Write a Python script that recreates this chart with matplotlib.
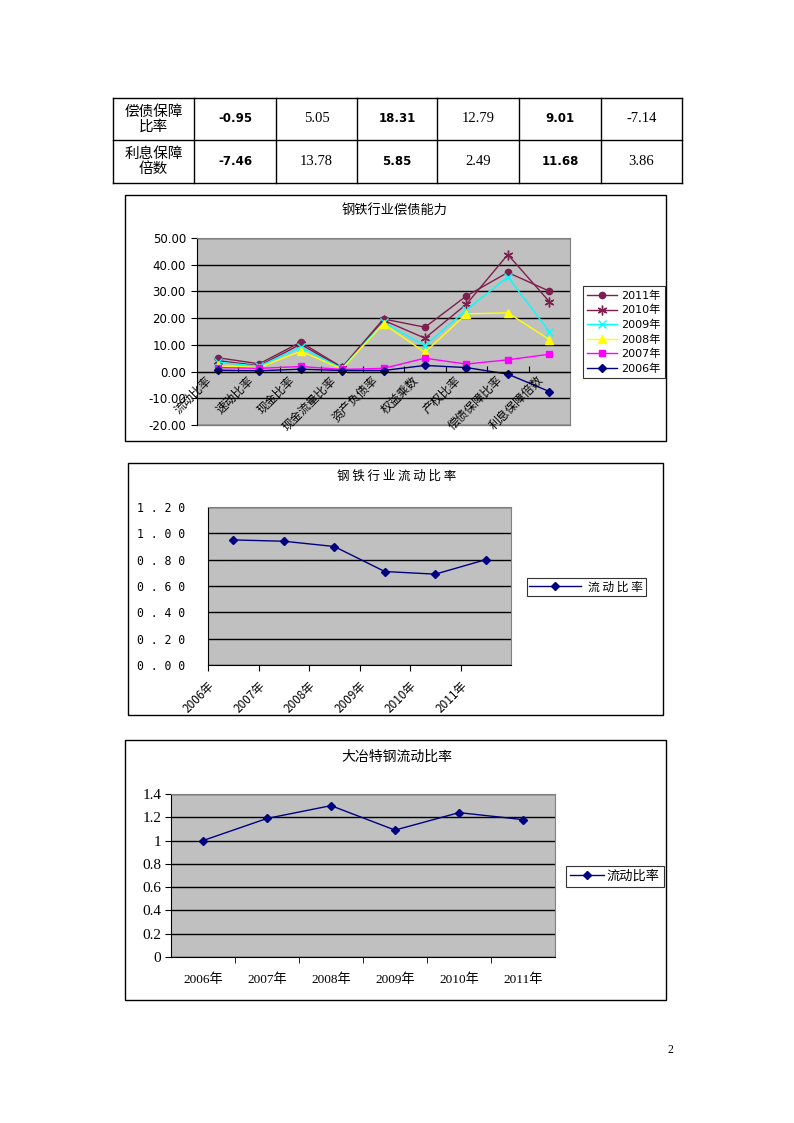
import matplotlib
matplotlib.use('Agg')
import matplotlib.pyplot as plt
from matplotlib.patches import Rectangle
from matplotlib.ticker import FuncFormatter

plt.rcParams['font.family'] = ['DejaVu Sans', 'Noto Sans CJK SC']

# table data
table_rows = ['偿债保障\n比率', '利息保障\n倍数']
table_vals = [['-0.95', '5.05', '18.31', '12.79', '9.01', '-7.14'],
              ['-7.46', '13.78', '5.85', '2.49', '11.68', '3.86']]
bold_cols = [0, 2, 4]

# chart 1 data
ratio_names = ['流动比率', '速动比率', '现金比率', '现金流量比率', '资产负债率',
               '权益乘数', '产权比率', '偿债保障比率', '利息保障倍数']
v2011 = [5.2, 2.9, 11.0, 1.6, 19.7, 16.6, 28.3, 37.1, 30.1]
v2010 = [4.1, 2.2, 10.2, 1.3, 19.2, 12.5, 25.2, 43.8, 26.2]
v2009 = [3.5, 2.0, 9.1, 1.2, 18.4, 9.7, 23.1, 35.4, 15.0]
v2008 = [2.2, 1.5, 7.6, 1.0, 17.9, 7.2, 21.6, 22.0, 12.0]
v2007 = [1.5, 1.2, 1.9, 0.8, 1.2, 5.0, 2.8, 4.4, 6.5]
v2006 = [0.5, 0.3, 0.9, 0.4, 0.4, 2.3, 1.5, -0.95, -7.46]

# chart 2 data
years = ['2006年', '2007年', '2008年', '2009年', '2010年', '2011年']
industry_cr = [0.95, 0.94, 0.90, 0.71, 0.69, 0.80]

# chart 3 data
daye_cr = [1.0, 1.19, 1.30, 1.09, 1.24, 1.18]

W, H = 794, 1123
fig = plt.figure(figsize=(W / 100, H / 100), dpi=100)

# page layer in pixel coords
bg = fig.add_axes([0, 0, 1, 1], zorder=0)
bg.set_xlim(0, W)
bg.set_ylim(H, 0)
bg.axis('off')

# table
col_x = [113, 194, 276, 357, 437, 519, 601, 682]
row_y = [98, 140, 183]
for x in col_x:
    bg.plot([x, x], [row_y[0], row_y[-1]], color='black', lw=1)
for y in row_y:
    bg.plot([col_x[0], col_x[-1]], [y, y], color='black', lw=1)
for r, lab in enumerate(table_rows):
    yc = (row_y[r] + row_y[r + 1]) / 2
    bg.text((col_x[0] + col_x[1]) / 2, yc, lab, ha='center', va='center',
            fontsize=10.5, family=['Noto Sans CJK SC'], linespacing=1.05)
    for c, val in enumerate(table_vals[r]):
        xc = (col_x[c + 1] + col_x[c + 2]) / 2
        if c in bold_cols:
            bg.text(xc, yc, val, ha='center', va='center', fontsize=8.5,
                    family=['DejaVu Sans'], fontweight='bold')
        else:
            bg.text(xc, yc, val, ha='center', va='center', fontsize=10.5,
                    family=['Liberation Serif'])

# chart frames
for (x0, y0, x1, y1) in [(125, 195, 666, 441), (128, 463, 663, 715), (125, 740, 666, 1000)]:
    bg.add_patch(Rectangle((x0, y0), x1 - x0, y1 - y0, fill=False, ec='black', lw=1))
bg.text(670, 1050, '2', fontsize=8.5, family=['Liberation Serif'], ha='center', va='center')

PLOT_BG = '#C0C0C0'


def fig_rect(x0, y0, x1, y1):
    return [x0 / W, 1 - y1 / H, (x1 - x0) / W, (y1 - y0) / H]


# ---------- chart 1 ----------
ax1 = fig.add_axes(fig_rect(197, 238, 570, 425), zorder=2)
ax1.set_facecolor(PLOT_BG)
x = list(range(len(ratio_names)))
series = [
    ('2011年', v2011, '#7F1F4F', 'o', 4.5),
    ('2010年', v2010, '#7F1F4F', (6, 2, 0), 7),
    ('2009年', v2009, '#00FFFF', 'x', 5.5),
    ('2008年', v2008, '#FFFF00', '^', 5.5),
    ('2007年', v2007, '#FF00FF', 's', 5),
    ('2006年', v2006, '#000080', 'D', 4),
]
for name, vals, col, mk, ms in series:
    ax1.plot(x, vals, color=col, marker=mk, ms=ms, lw=1, label=name,
             mec=col, mfc=col, clip_on=False)
ax1.set_xlim(-0.5, len(ratio_names) - 0.5)
ax1.set_ylim(-20, 50)
ax1.set_yticks(range(-20, 51, 10))
ax1.yaxis.set_major_formatter(FuncFormatter(lambda v, p: '%.2f' % v))
ax1.grid(axis='y', color='black', lw=1)
ax1.set_axisbelow(True)
ax1.set_xticks([i + 0.5 for i in x[:-1]])
ax1.set_xticklabels([])
ax1.spines['bottom'].set_position(('data', 0))
ax1.spines['bottom'].set_color('black')
for s in ['top', 'right']:
    ax1.spines[s].set_color('#808080')
ax1.tick_params(axis='x', direction='in', length=4, color='black')
ax1.tick_params(axis='y', direction='out', length=4, labelsize=8.5, pad=4)
ax1.plot([0, 1], [0, 0], transform=ax1.transAxes, color='#808080', lw=1, clip_on=False)
for i, name in enumerate(ratio_names):
    ax1.text(i - 0.3, -0.8, name, rotation=45, rotation_mode='anchor',
             ha='right', va='top', fontsize=8.5, family=['Noto Sans CJK SC'])
fig.text(395 / W, 1 - 210 / H, '钢铁行业偿债能力', ha='center', va='center',
         fontsize=9.5, family=['Noto Sans CJK SC'])
leg1 = ax1.legend(loc='upper left', bbox_to_anchor=(583 / W, 1 - 286 / H),
                  bbox_transform=fig.transFigure, frameon=True, borderaxespad=0,
                  fancybox=False, edgecolor='black', borderpad=0.4,
                  labelspacing=0.38, handlelength=2.7, handletextpad=0.3,
                  prop={'family': ['DejaVu Sans', 'Noto Sans CJK SC'], 'size': 8})
leg1.get_frame().set_linewidth(0.8)

# ---------- chart 2 ----------
ax2 = fig.add_axes(fig_rect(208, 507, 511, 665), zorder=2)
ax2.set_facecolor(PLOT_BG)
xs = list(range(len(years)))
ax2.plot(xs, industry_cr, color='#000080', marker='D', ms=4.5, lw=1,
         label='流 动 比 率')
ax2.set_xlim(-0.5, len(years) - 0.5)
ax2.set_ylim(0, 1.2)
ax2.set_yticks([0, 0.2, 0.4, 0.6, 0.8, 1.0, 1.2])
ax2.yaxis.set_major_formatter(FuncFormatter(lambda v, p: ' '.join('%.2f' % v)))
ax2.grid(axis='y', color='black', lw=1)
ax2.set_axisbelow(True)
ax2.set_xticks([i - 0.5 for i in xs])
ax2.set_xticklabels(years, rotation=45, ha='right', rotation_mode='anchor',
                    family=['Noto Sans CJK SC'], fontsize=8.5)
for s in ['top', 'right']:
    ax2.spines[s].set_color('#808080')
ax2.tick_params(axis='x', direction='out', length=4, pad=6)
ax2.tick_params(axis='y', direction='out', length=0, labelsize=8.3, pad=16.5)
for lab in ax2.get_yticklabels():
    lab.set_family(['DejaVu Sans Mono'])
fig.text(397 / W, 1 - 476 / H, '钢 铁 行 业 流 动 比 率', ha='center', va='center',
         fontsize=9, family=['Noto Sans CJK SC'])
leg2 = ax2.legend(loc='upper left', bbox_to_anchor=(527 / W, 1 - 578 / H),
                  bbox_transform=fig.transFigure, fancybox=False, edgecolor='black',
                  borderpad=0.2, handlelength=4.4, handletextpad=0.6, borderaxespad=0,
                  prop={'family': ['Noto Sans CJK SC'], 'size': 8.5})
leg2.get_frame().set_linewidth(0.8)

# ---------- chart 3 ----------
ax3 = fig.add_axes(fig_rect(171, 794, 555, 957), zorder=2)
ax3.set_facecolor(PLOT_BG)
ax3.plot(xs, daye_cr, color='#000080', marker='D', ms=4.5, lw=1, label='流动比率')
ax3.set_xlim(-0.5, len(years) - 0.5)
ax3.set_ylim(0, 1.4)
ax3.set_yticks([0, 0.2, 0.4, 0.6, 0.8, 1.0, 1.2, 1.4])
ax3.yaxis.set_major_formatter(FuncFormatter(lambda v, p: '%g' % v))
ax3.grid(axis='y', color='black', lw=1)
ax3.set_axisbelow(True)
ax3.set_xticks(xs)
ax3.set_xticklabels(years, family=['Liberation Serif', 'Noto Sans CJK SC'], fontsize=9.5)
ax3.set_xticks([i + 0.5 for i in xs[:-1]], minor=True)
ax3.tick_params(axis='x', which='major', length=0, pad=12)
ax3.tick_params(axis='x', which='minor', direction='out', length=4)
ax3.tick_params(axis='y', direction='out', length=4, labelsize=11, pad=3)
for lab in ax3.get_yticklabels():
    lab.set_family(['Liberation Serif'])
for s in ['top', 'right']:
    ax3.spines[s].set_color('#808080')
fig.text(397 / W, 1 - 757 / H, '大冶特钢流动比率', ha='center', va='center',
         fontsize=10, family=['Noto Sans CJK SC'])
leg3 = ax3.legend(loc='upper left', bbox_to_anchor=(566 / W, 1 - 866 / H),
                  bbox_transform=fig.transFigure, fancybox=False, edgecolor='black',
                  borderpad=0.3, handlelength=2.6, handletextpad=0.2, borderaxespad=0,
                  prop={'family': ['Noto Sans CJK SC'], 'size': 9.5})
leg3.get_frame().set_linewidth(0.8)

fig.savefig('out.png', dpi=100)
